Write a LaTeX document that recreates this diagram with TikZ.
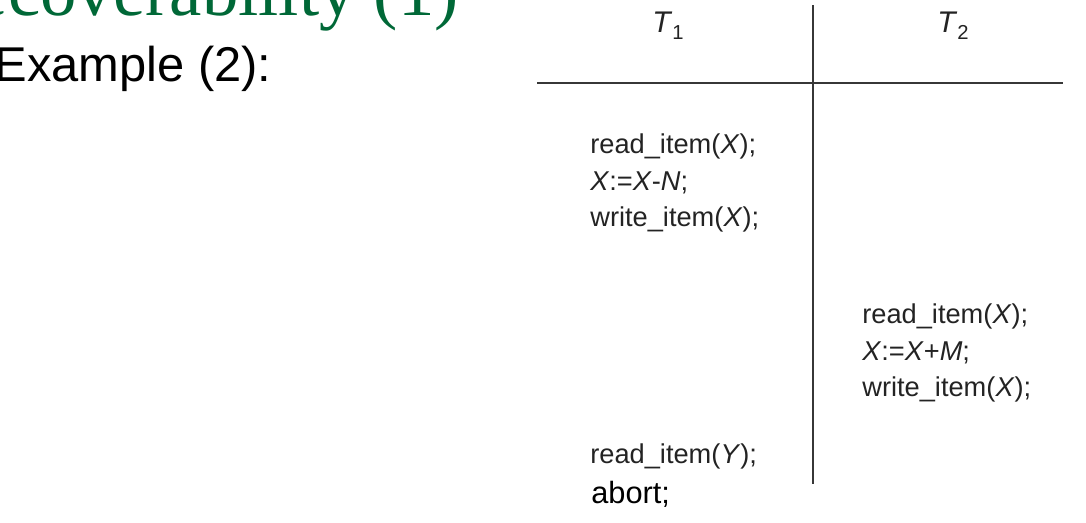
\documentclass[tikz,border=0pt]{standalone}
\usepackage{fontspec}
\setmainfont{Liberation Sans}
\newfontfamily\titlefont{Liberation Serif}
\usepackage{tikz}
\definecolor{slidegreen}{RGB}{0,104,55}
\definecolor{inkgray}{RGB}{35,35,35}
\definecolor{rulegray}{RGB}{55,55,55}
\tikzset{stmt/.style={
    anchor=base west, inner sep=0pt, text=inkgray,
    font=\fontsize{15.5}{19}\selectfont},
  head/.style={
    anchor=base west, inner sep=0pt, text=inkgray,
    font=\fontsize{17}{20}\selectfont},
  rule/.style={
    draw=rulegray, line width=1.1pt}}
\newcommand{\tname}[1]{\textit{T}\raisebox{-0.14cm}{\fontsize{11.5}{11.5}\selectfont #1}}

\begin{document}
\begin{tikzpicture}[x=0.02cm,y=-0.02cm]
	\useasboundingbox (0,0) rectangle (1086,522);
	\clip (0,0) rectangle (1086,522);
\coordinate (V1) at (813,5);
\coordinate (V2) at (813,484);
\coordinate (H1) at (537,83);
\coordinate (H2) at (1063,83);

\node[anchor=base east, inner sep=0pt, text=slidegreen,
  font=\titlefont\fontsize{41.4}{48}\selectfont] (title) at (459,15) {Recoverability (1)};
\node[anchor=base east, inner sep=0pt,
  font=\fontsize{27.8}{33}\selectfont] (example) at (272,81) {Example (2):};

\path[draw=rulegray, rule] (V1) -- (V2);
\path[draw=rulegray, rule] (H1) -- (H2);

	\node[head] (t1) at (652,32) {\tname{1}};
	\node[head] (t2) at (937,32) {\tname{2}};

	\node[stmt] (t1read) at (590,153) {read\_item(\textit{X});};
	\node[stmt] (t1calc) at (590,190) {\textit{X}:=\textit{X}-\textit{N};};
	\node[stmt] (t1write) at (590,226) {write\_item(\textit{X});};

	\node[stmt] (t2read) at (862,323) {read\_item(\textit{X});};
	\node[stmt] (t2calc) at (862,360) {\textit{X}:=\textit{X}+\textit{M};};
	\node[stmt] (t2write) at (862,396) {write\_item(\textit{X});};

	\node[stmt] (t1ready) at (590,463) {read\_item(\textit{Y});};
	\node[stmt, text=black, font=\fontsize{17.5}{21}\selectfont] (t1abort) at (591,503) {abort;};
  
\end{tikzpicture}
\end{document}
